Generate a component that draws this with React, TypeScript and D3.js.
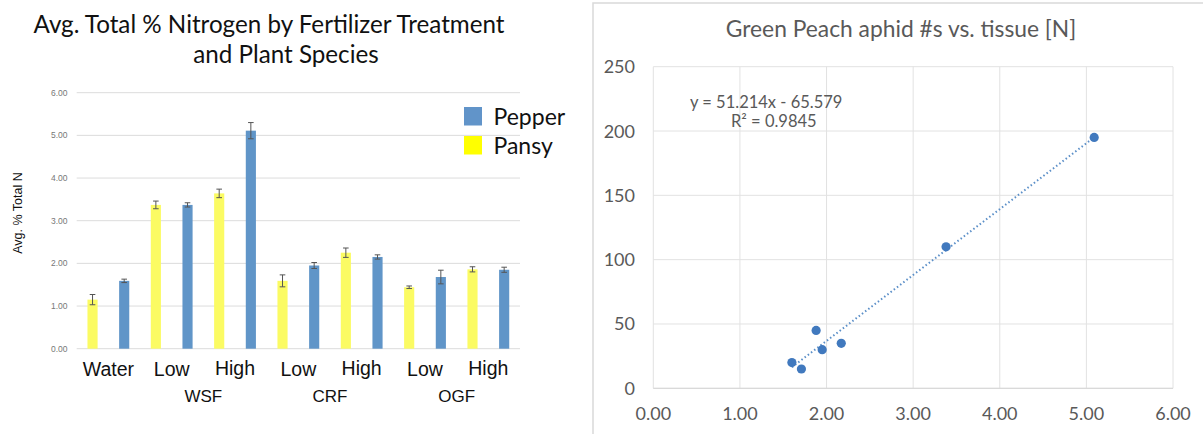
import React from 'react';
import * as d3 from 'd3';

// left chart: avg total % N per treatment
const treatments = ['Water', 'Low', 'High', 'Low', 'High', 'Low', 'High'];
const fertilizerGroups = ['WSF', 'CRF', 'OGF'];
const species = ['Pansy', 'Pepper'];
const pansyMeans = [1.15, 3.37, 3.64, 1.59, 2.25, 1.44, 1.86];
const pansyErr = [0.12, 0.09, 0.1, 0.14, 0.11, 0.03, 0.06];
const pepperMeans = [1.59, 3.37, 5.11, 1.95, 2.15, 1.68, 1.85];
const pepperErr = [0.04, 0.05, 0.19, 0.07, 0.05, 0.16, 0.06];
const nTicks = [0, 1, 2, 3, 4, 5, 6];

// right chart: aphids vs tissue N
const tissueN = [1.6, 1.71, 1.88, 1.95, 2.17, 3.38, 5.09];
const aphidCount = [20, 15, 45, 30, 35, 110, 195];
const trendSlope = 51.214;
const trendIntercept = -65.579;
const equationLabel = 'y = 51.214x - 65.579';
const rSquaredValue = '0.9845';

const W = 1203;
const H = 434;
const calibri = 'Lato, "Open Sans", sans-serif';
const arial = '"Liberation Sans", Arial, sans-serif';

function BarChart() {
  const x = d3.scaleBand<number>().domain(d3.range(treatments.length)).range([76.7, 520]);
  const sub = d3.scaleBand<string>().domain(species).range([0, x.bandwidth()]);
  const barW = sub.bandwidth() * 0.32;
  const y = d3.scaleLinear().domain([0, 6]).range([348.7, 92.7]);
  const colors: Record<string, string> = { Pansy: '#fbfb63', Pepper: '#6095c8' };
  const means: Record<string, number[]> = { Pansy: pansyMeans, Pepper: pepperMeans };
  const errs: Record<string, number[]> = { Pansy: pansyErr, Pepper: pepperErr };

  return (
    <g>
      <text x={269} y={33} textAnchor="middle" fontFamily={calibri} fontSize={24.2} fill="#111">
        Avg. Total % Nitrogen by Fertilizer Treatment
      </text>
      <text x={286} y={63} textAnchor="middle" fontFamily={calibri} fontSize={24.2} fill="#111">
        and Plant Species
      </text>
      {nTicks.map((t) => (
        <g key={t}>
          <line x1={76.7} x2={520} y1={y(t)} y2={y(t)} stroke="#dcdcdc" strokeWidth={1} />
          <text x={67.5} y={y(t) + 3} textAnchor="end" fontFamily={arial} fontSize={8.5} fill="#777">
            {d3.format('.2f')(t)}
          </text>
        </g>
      ))}
      <text
        transform={`translate(22,213) rotate(-90)`}
        textAnchor="middle"
        fontFamily={arial}
        fontSize={12.5}
        fill="#111"
      >
        Avg. % Total N
      </text>
      {treatments.map((t, i) =>
        species.map((s) => {
          const cx = (x(i) as number) + (sub(s) as number) + sub.bandwidth() / 2;
          const v = means[s][i];
          const e = errs[s][i];
          return (
            <g key={t + i + s}>
              <rect x={cx - barW / 2} y={y(v)} width={barW} height={y(0) - y(v)} fill={colors[s]} />
              <line x1={cx} x2={cx} y1={y(v + e)} y2={y(v - e)} stroke="#555" strokeWidth={1} />
              <line x1={cx - 2.8} x2={cx + 2.8} y1={y(v + e)} y2={y(v + e)} stroke="#555" strokeWidth={1} />
              <line x1={cx - 2.8} x2={cx + 2.8} y1={y(v - e)} y2={y(v - e)} stroke="#555" strokeWidth={1} />
            </g>
          );
        })
      )}
      {treatments.map((t, i) => (
        <text
          key={'lbl' + i}
          x={(x(i) as number) + x.bandwidth() / 2}
          y={t === 'High' ? 375 : 376}
          textAnchor="middle"
          fontFamily={arial}
          fontSize={19.5}
          fill="#111"
        >
          {t}
        </text>
      ))}
      {fertilizerGroups.map((g, i) => {
        const a = x(1 + 2 * i) as number;
        const b = (x(2 + 2 * i) as number) + x.bandwidth();
        return (
          <text key={g} x={(a + b) / 2} y={401.5} textAnchor="middle" fontFamily={arial} fontSize={17} fill="#111">
            {g}
          </text>
        );
      })}
      {['Pepper', 'Pansy'].map((s, i) => (
        <g key={'leg' + s} transform={`translate(464,${107 + i * 29})`}>
          <rect width={18} height={18.5} fill={s === 'Pepper' ? '#6194c9' : '#ffff00'} />
          <text x={29.5} y={18} fontFamily={calibri} fontSize={23} fill="#111">
            {s}
          </text>
        </g>
      ))}
    </g>
  );
}

function ScatterChart() {
  const x = d3.scaleLinear().domain([0, 6]).range([653.3, 1173]);
  const y = d3.scaleLinear().domain([0, 250]).range([388.3, 66.7]);
  const xExt = d3.extent(tissueN) as [number, number];
  const trend = d3
    .line<number>()
    .x((d) => x(d))
    .y((d) => y(trendSlope * d + trendIntercept));
  const grey = '#595959';

  return (
    <g>
      <rect x={593} y={3} width={640} height={460} fill="#fff" stroke="#d9d9d9" strokeWidth={1.5} />
      <text x={901} y={37} textAnchor="middle" fontFamily={calibri} fontSize={22.8} fill={grey}>
        Green Peach aphid #s vs. tissue [N]
      </text>
      {y.ticks(5).map((t) => (
        <g key={'y' + t}>
          <line x1={x(0)} x2={x(6)} y1={y(t)} y2={y(t)} stroke="#e2e2e2" strokeWidth={1} />
          <text x={635} y={y(t) + 6.5} textAnchor="end" fontFamily={calibri} fontSize={18} fill={grey}>
            {t}
          </text>
        </g>
      ))}
      {x.ticks(6).map((t) => (
        <g key={'x' + t}>
          <line x1={x(t)} x2={x(t)} y1={y(0)} y2={y(250)} stroke="#e2e2e2" strokeWidth={1} />
          <text x={x(t)} y={420} textAnchor="middle" fontFamily={calibri} fontSize={18} fill={grey}>
            {d3.format('.2f')(t)}
          </text>
        </g>
      ))}
      <line x1={x(0)} x2={x(6)} y1={y(0)} y2={y(0)} stroke="#d6d6d6" strokeWidth={1} />
      <path
        d={trend(xExt) || ''}
        fill="none"
        stroke="#5b8fc8"
        strokeWidth={2}
        strokeDasharray="1.5 2.5"
      />
      {tissueN.map((v, i) => (
        <circle key={'p' + i} cx={x(v)} cy={y(aphidCount[i])} r={4.6} fill="#4179be" />
      ))}
      <text x={690} y={108} fontFamily={calibri} fontSize={16.5} fill={grey}>
        {equationLabel}
      </text>
      <text x={731} y={127} fontFamily={calibri} fontSize={16.5} fill={grey}>
        R² = {rSquaredValue}
      </text>
    </g>
  );
}

export default function App() {
  return (
    <svg width={W} height={H} style={{ position: 'absolute', left: 0, top: 0, background: '#fff' }}>
      <BarChart />
      <ScatterChart />
    </svg>
  );
}
